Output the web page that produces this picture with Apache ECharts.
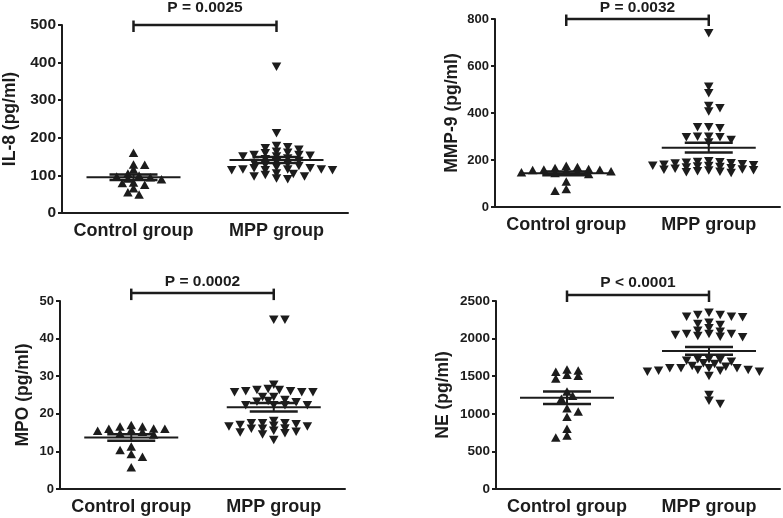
<!DOCTYPE html>
<html><head><meta charset="utf-8">
<script src="https://cdn.jsdelivr.net/npm/echarts@6/dist/echarts.min.js"></script>
<style>html,body{margin:0;padding:0;background:#fff}#c{width:783px;height:518px}</style>
</head><body><div id="c"></div>
<script>
// ---- data ----
const categories = ['Control group', 'MPP group'];

const il8Control = [160, 129, 128, 116, 105, 100, 97, 95, 92, 90, 81, 80, 75, 66, 55, 49];
const il8MPP = [389, 212, 178, 175, 172, 168, 163, 160, 159, 154, 154, 152, 150, 150, 145, 143, 138, 135, 133, 130, 128, 125, 122, 119, 119, 116, 116, 116, 114, 114, 114, 105, 104, 101, 97, 97, 92, 90];

const mmp9Control = [176, 170, 166, 162, 160, 158, 157, 155, 152, 150, 148, 145, 140, 108, 77, 69];
const mmp9MPP = [739, 512, 484, 430, 420, 406, 339, 335, 339, 299, 297, 297, 299, 285, 274,
  195, 192, 190, 188, 186, 185, 182, 180, 178, 176, 175, 172, 170, 168, 165, 163, 160, 158, 156, 155, 152, 150, 148, 145];

const mpoControl = [17.0, 16.6, 16.6, 16.1, 16.0, 16.0, 15.7, 15.5, 15.2, 14.8, 14.5, 11.3, 10.4, 9.3, 8.6, 5.8];
const mpoMPP = [45.0, 45.0, 27.7, 26.6, 26.3, 26.3, 26.0, 26.0, 25.7, 25.7, 25.7, 24.5, 24.5, 23.7, 23.4, 23.2, 23.1, 22.3, 22.3, 22.3, 22.3,
  18.1, 17.5, 17.5, 17.5, 17.2, 17.0, 16.8, 16.6, 16.6, 16.1, 16.0, 16.0, 15.5, 15.2, 15.0, 14.8, 14.5, 13.0];

const neControl = [1590, 1560, 1575, 1520, 1505, 1470, 1295, 1240, 1200, 1075, 1030, 960, 800, 710, 685];
const neMPP = [2344, 2314, 2314, 2291, 2291, 2283, 2211, 2194, 2181, 2137, 2105, 2092, 2061, 2061, 2061, 2048, 2035, 2025, 2017,
  1724, 1724, 1715, 1706, 1693, 1671, 1662, 1636, 1626, 1605, 1605, 1605, 1605, 1582, 1582, 1573, 1573, 1560, 1560, 1503, 1250, 1174, 1130];

const yTitles = ['IL-8 (pg/ml)', 'MMP-9 (pg/ml)', 'MPO (pg/ml)', 'NE (pg/ml)'];
const yMaxes = [500, 800, 50, 2500];
const yIntervals = [100, 200, 10, 500];
const pLabels = ['P = 0.0025', 'P = 0.0032', 'P = 0.0002', 'P < 0.0001'];
const bracketLevels = [500, 800, 52.1, 2580];

// ---- layout / style ----
const grids = [
  {left: 62, top: 25, width: 286, height: 188},
  {left: 495, top: 19, width: 285, height: 188},
  {left: 60, top: 301, width: 285, height: 188},
  {left: 496, top: 301, width: 284, height: 188}
];
const yLabelSize = [15.5, 13, 13, 13.5];
const nameGaps = [43, 34, 28, 44];
const pTextOffset = [17, 11, 11.5, 12];
const FONT = '"Liberation Sans", Arial, sans-serif';
const INK = '#1c1c1c';

const panelsData = [[il8Control, il8MPP], [mmp9Control, mmp9MPP], [mpoControl, mpoMPP], [neControl, neMPP]];

function swarm(values, center, yPx, xPx) {
  const sorted = values.slice().sort((a, b) => b - a);
  const placed = [];
  const step = 5.6, rx = 11, ry = 4.6;
  let pref = 1;
  sorted.forEach(v => {
    const y = v * yPx;
    let chosen = 0;
    for (let k = 0; k < 80; k++) {
      const mag = Math.ceil(k / 2) * step;
      const dx = k === 0 ? 0 : (k % 2 === 1 ? pref : -pref) * mag;
      const hit = placed.some(p => {
        const a = (p.dx - dx) / rx, b = (p.y - y) / ry;
        return a * a + b * b < 0.999;
      });
      if (!hit) { chosen = dx; break; }
    }
    if (chosen !== 0) pref = -Math.sign(chosen);
    placed.push({dx: chosen, y: y});
  });
  return placed.map((p, i) => [center + p.dx / xPx, sorted[i]]);
}

function meanSem(arr) {
  const n = arr.length;
  const m = arr.reduce((a, b) => a + b, 0) / n;
  const sd = Math.sqrt(arr.reduce((a, b) => a + (b - m) * (b - m), 0) / (n - 1));
  return [m, sd / Math.sqrt(n)];
}

const option = {
  backgroundColor: '#fff',
  animation: false,
  grid: grids.map(g => Object.assign({containLabel: false}, g)),
  xAxis: [],
  yAxis: [],
  series: []
};

panelsData.forEach((pd, i) => {
  const g = grids[i];
  option.xAxis.push({
    type: 'category', gridIndex: i, data: categories, boundaryGap: true,
    axisLine: {onZero: false, lineStyle: {color: INK, width: 2}},
    axisTick: {alignWithLabel: true, length: 5, lineStyle: {color: INK, width: 2}},
    axisLabel: {color: INK, fontFamily: FONT, fontWeight: 'bold', fontSize: 18, margin: 9, interval: 0},
    splitLine: {show: false}
  });
  option.xAxis.push({type: 'value', gridIndex: i, min: -0.5, max: 1.5, show: false});
  option.yAxis.push({
    type: 'value', gridIndex: i, min: 0, max: yMaxes[i], interval: yIntervals[i],
    name: yTitles[i], nameLocation: 'middle', nameRotate: 90, nameGap: nameGaps[i],
    nameTextStyle: {color: INK, fontFamily: FONT, fontWeight: 'bold', fontSize: 17.5},
    axisLine: {show: true, onZero: false, lineStyle: {color: INK, width: 2}},
    axisTick: {show: true, length: 4, lineStyle: {color: INK, width: 2}},
    axisLabel: {color: INK, fontFamily: FONT, fontWeight: 'bold', fontSize: yLabelSize[i], margin: 6,
      formatter: v => String(v)},
    splitLine: {show: false}
  });
  const yPx = g.height / yMaxes[i];
  const xPx = g.width / 2;
  const xIdx = i * 2 + 1;
  pd.forEach((vals, gi) => {
    option.series.push({
      type: 'scatter', xAxisIndex: xIdx, yAxisIndex: i,
      symbol: 'triangle', symbolSize: [9.5, 8.5], symbolRotate: gi === 0 ? 0 : 180,
      itemStyle: {color: INK, opacity: 1},
      data: swarm(vals, gi, yPx, xPx), z: 2
    });
  });
  const stats = pd.map((vals, gi) => { const s = meanSem(vals); return [gi, s[0], s[1]]; });
  option.series.push({
    type: 'custom', xAxisIndex: xIdx, yAxisIndex: i, z: 5,
    data: stats,
    renderItem: function (params, api) {
      const x = api.value(0), m = api.value(1), s = api.value(2);
      const c = api.coord([x, m]), t = api.coord([x, m + s]), b = api.coord([x, m - s]);
      const st = {stroke: INK, lineWidth: 2};
      const st2 = {stroke: INK, lineWidth: 2.5};
      return {type: 'group', children: [
        {type: 'line', shape: {x1: c[0] - 47, y1: c[1], x2: c[0] + 47, y2: c[1]}, style: st},
        {type: 'line', shape: {x1: t[0] - 24, y1: t[1], x2: t[0] + 24, y2: t[1]}, style: st2},
        {type: 'line', shape: {x1: b[0] - 24, y1: b[1], x2: b[0] + 24, y2: b[1]}, style: st2},
        {type: 'line', shape: {x1: t[0], y1: t[1], x2: b[0], y2: b[1]}, style: st}
      ]};
    }
  });
  option.series.push({
    type: 'custom', xAxisIndex: xIdx, yAxisIndex: i, z: 5, clip: false,
    data: [[0, bracketLevels[i], 1]],
    renderItem: function (params, api) {
      const p0 = api.coord([api.value(0), api.value(1)]);
      const p1 = api.coord([api.value(2), api.value(1)]);
      const st = {stroke: INK, lineWidth: 2.5};
      return {type: 'group', children: [
        {type: 'line', shape: {x1: p0[0], y1: p0[1], x2: p1[0], y2: p1[1]}, style: st},
        {type: 'line', shape: {x1: p0[0], y1: p0[1] - 4.5, x2: p0[0], y2: p0[1] + 7}, style: st},
        {type: 'line', shape: {x1: p1[0], y1: p1[1] - 4.5, x2: p1[0], y2: p1[1] + 7}, style: st},
        {type: 'text', style: {text: pLabels[i], x: (p0[0] + p1[0]) / 2, y: p0[1] - pTextOffset[i],
          align: 'center', verticalAlign: 'middle', fill: INK,
          font: 'bold 15.5px ' + FONT}}
      ]};
    }
  });
});

const chart = echarts.init(document.getElementById('c'), null, {renderer: 'canvas'});
chart.setOption(option);
</script>
</body></html>
